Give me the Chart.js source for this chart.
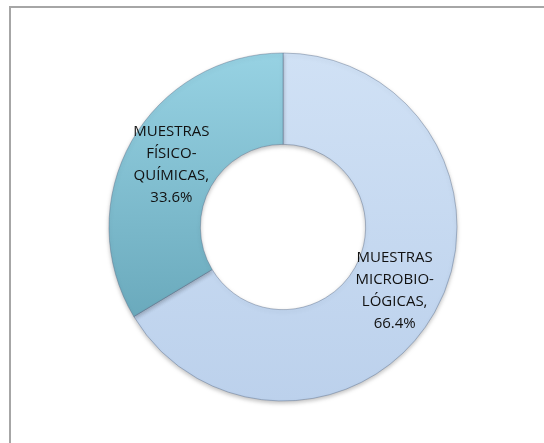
<!DOCTYPE html>
<html>
<head>
<meta charset="utf-8">
<script src="https://cdn.jsdelivr.net/npm/chart.js@4/dist/chart.umd.min.js"></script>
<style>
    html, body { margin: 0; padding: 0; background: #ffffff; }
    #contenedor { position: relative; width: 544px; height: 443px; }
</style>
</head>
<body>
<div id="contenedor"><canvas id="graficaMuestras" width="544" height="443"></canvas></div>
<script>
// --- Datos del gráfico ---
const categorias = ['MUESTRAS MICROBIO-LÓGICAS', 'MUESTRAS FÍSICO-QUÍMICAS'];
const porcentajes = [66.4, 33.6];

// Colores (arriba / abajo del degradado)
const coloresArriba = ['#d0e1f5', '#97d2e3'];
const coloresAbajo = ['#bcd1ec', '#5c9db0'];

// Parte la etiqueta en renglones: por espacios y después de cada guion
const partirEtiqueta = (texto) => {
    const renglones = [];
    texto.split(' ').forEach(palabra => {
        palabra.split(/(?<=-)/).forEach(trozo => renglones.push(trozo));
    });
    return renglones;
};

// Marco gris (solo lado superior e izquierdo visibles)
const pluginMarco = {
    id: 'marco',
    beforeDraw(chart) {
        const ctx = chart.ctx;
        ctx.save();
        ctx.strokeStyle = '#a6a6a6';
        ctx.lineWidth = 2;
        ctx.strokeRect(10, 7, 700, 700);
        ctx.restore();
    }
};

// Sombra suave bajo la dona
const pluginSombra = {
    id: 'sombra',
    beforeDatasetsDraw(chart) {
        const ctx = chart.ctx;
        ctx.save();
        ctx.shadowColor = 'rgba(0,0,0,0.25)';
        ctx.shadowBlur = 4;
        ctx.shadowOffsetY = 2;
    },
    afterDatasetsDraw(chart) {
        chart.ctx.restore();
    }
};

// Etiquetas de datos dentro de cada porción
const pluginEtiquetas = {
    id: 'etiquetas',
    afterDraw(chart) {
        const ctx = chart.ctx;
        const meta = chart.getDatasetMeta(0);
        ctx.save();
        ctx.font = "15px 'Open Sans', sans-serif";
        ctx.fillStyle = '#111111';
        ctx.textAlign = 'center';
        ctx.textBaseline = 'middle';
        const altoRenglon = 22;
        meta.data.forEach((arco, i) => {
            const pos = arco.tooltipPosition();
            const renglones = partirEtiqueta(categorias[i]);
            renglones[renglones.length - 1] += ',';
            renglones.push(porcentajes[i].toFixed(1) + '%');
            const inicioY = pos.y + 1 - (renglones.length - 1) * altoRenglon / 2;
            renglones.forEach((r, j) => ctx.fillText(r, pos.x, inicioY + j * altoRenglon));
        });
        ctx.restore();
    }
};

const degradado = (context) => {
    const chart = context.chart;
    const area = chart.chartArea;
    if (!area) return coloresAbajo[context.dataIndex];
    const g = chart.ctx.createLinearGradient(0, 53, 0, 402);
    g.addColorStop(0, coloresArriba[context.dataIndex]);
    g.addColorStop(1, coloresAbajo[context.dataIndex]);
    return g;
};

new Chart(document.getElementById('graficaMuestras').getContext('2d'), {
    type: 'doughnut',
    data: {
        labels: categorias,
        datasets: [{
            data: porcentajes,
            backgroundColor: degradado,
            borderColor: 'rgba(80,100,130,0.4)',
            borderWidth: 1,
            hoverOffset: 0
        }]
    },
    options: {
        responsive: false,
        animation: false,
        radius: 174,
        cutout: '47.5%',
        layout: { padding: { left: 60, right: 38, top: 40, bottom: 29 } },
        plugins: {
            legend: { display: false },
            tooltip: { enabled: false }
        }
    },
    plugins: [pluginMarco, pluginSombra, pluginEtiquetas]
});
</script>
</body>
</html>
